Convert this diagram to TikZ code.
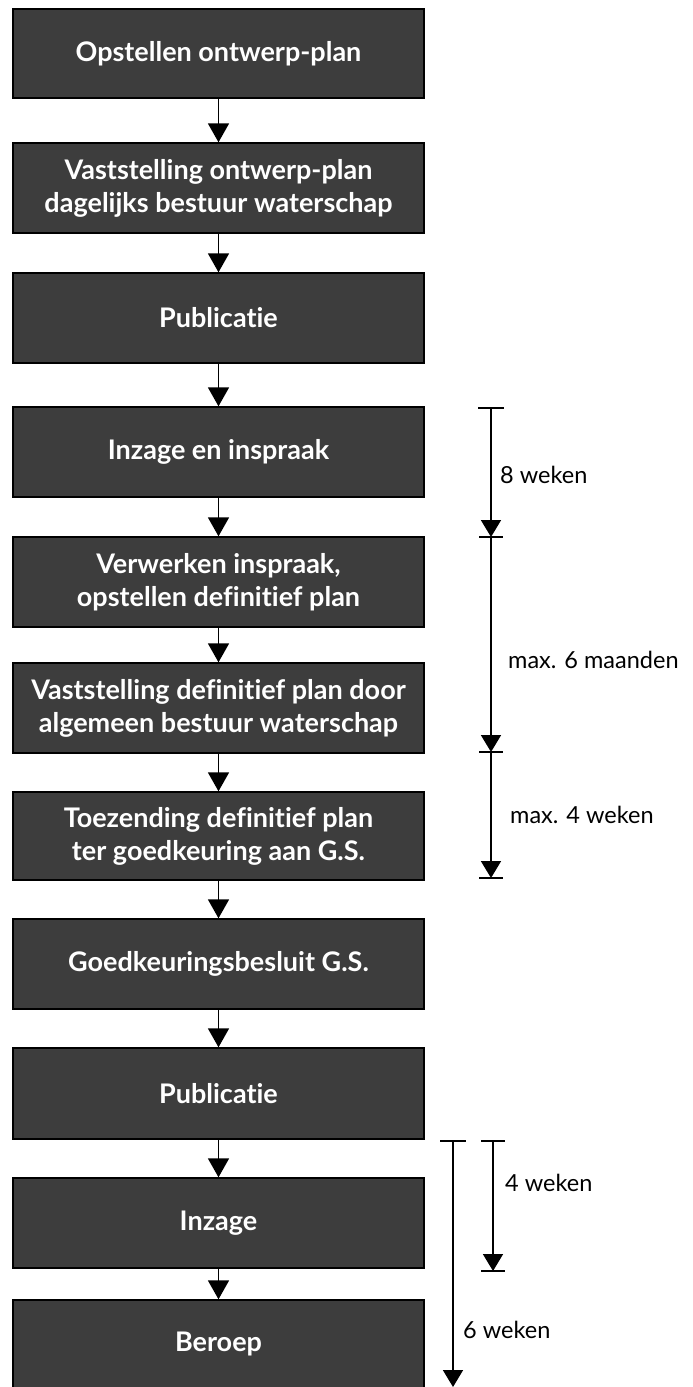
\documentclass[tikz,border=0pt]{standalone}
\usepackage{fontspec}
\setmainfont{Lato}[Ligatures=NoCommon]
\usetikzlibrary{arrows.meta}
\tikzset{
  stepbox/.style={draw=black, line width=1.4pt, fill=black!76, text=white,
    font=\fontsize{27}{33}\selectfont\bfseries, align=center,
    minimum width=411pt, inner sep=0pt},
  flow/.style={line width=1.8pt, -{Triangle[width=21pt,length=19pt]}},
  tl/.style={line width=1.8pt},
  tlarrow/.style={line width=1.8pt, -{Triangle[width=20pt,length=17pt]}},
  lbl/.style={anchor=west, font=\fontsize{23.5}{28}\selectfont, inner sep=0pt}
}
\begin{document}
\begin{tikzpicture}[x=1pt,y=-1pt]
\useasboundingbox (0,0) rectangle (693,1387);
\node[stepbox, minimum height=89pt] (b1) at (218.5,53.5) {Opstellen ontwerp-plan};
\node[stepbox, minimum height=90pt] (b2) at (218.5,188) {Vaststelling ontwerp-plan\\dagelijks bestuur waterschap};
\node[stepbox, minimum height=90pt] (b3) at (218.5,318) {Publicatie};
\node[stepbox, minimum height=90pt] (b4) at (218.5,452) {Inzage en inspraak};
\node[stepbox, minimum height=90pt] (b5) at (218.5,582) {Verwerken inspraak,\\opstellen definitief plan};
\node[stepbox, minimum height=90pt] (b6) at (218.5,708) {Vaststelling definitief plan door\\algemeen bestuur waterschap};
\node[stepbox, minimum height=88pt] (b7) at (218.5,836) {Toezending definitief plan\\ter goedkeuring aan G.S.};
\node[stepbox, minimum height=90pt] (b8) at (218.5,964) {Goedkeuringsbesluit G.S.};
\node[stepbox, minimum height=91pt] (b9) at (218.5,1093.5) {Publicatie};
\node[stepbox, minimum height=90pt] (b10) at (218.5,1223) {Inzage};
\node[stepbox, minimum height=88pt] (b11) at (218.5,1344) {Beroep};
\foreach \a/\b in {b1/b2,b2/b3,b3/b4,b4/b5,b5/b6,b6/b7,b7/b8,b8/b9,b9/b10,b10/b11}
  \draw[flow] (\a.south) -- (\b.north);
% first timeline
\coordinate (a0) at (491,408);
\coordinate (a1) at (491,537);
\coordinate (a2) at (491,752);
\coordinate (a3) at (491,878);
\draw[tl] (a0) ++(-13,0) -- ++(26,0);
\draw[tlarrow] (a0) -- (a1);
\draw[tlarrow] (a1) -- (a2);
\draw[tlarrow] (a2) -- (a3);
\foreach \c in {a1,a2,a3} \draw[tl] (\c) ++(-12,0) -- ++(24,0);
\node[lbl] (l1) at (500,475) {8 weken};
\node[lbl] (l2) at (508,660) {max. 6 maanden};
\node[lbl] (l3) at (510,815) {max. 4 weken};
% second timeline
\coordinate (c0) at (453,1141);
\coordinate (c1) at (453,1387);
\coordinate (d0) at (493,1141);
\coordinate (d1) at (493,1271);
\draw[tl] (c0) ++(-13,0) -- ++(26,0);
\draw[tl] (d0) ++(-12,0) -- ++(24,0);
\draw[tlarrow] (c0) -- (c1);
\draw[tlarrow] (d0) -- (d1);
\draw[tl] (d1) ++(-12,0) -- ++(24,0);
\node[lbl] (l4) at (505,1183) {4 weken};
\node[lbl] (l5) at (463,1330) {6 weken};
\end{tikzpicture}
\end{document}
